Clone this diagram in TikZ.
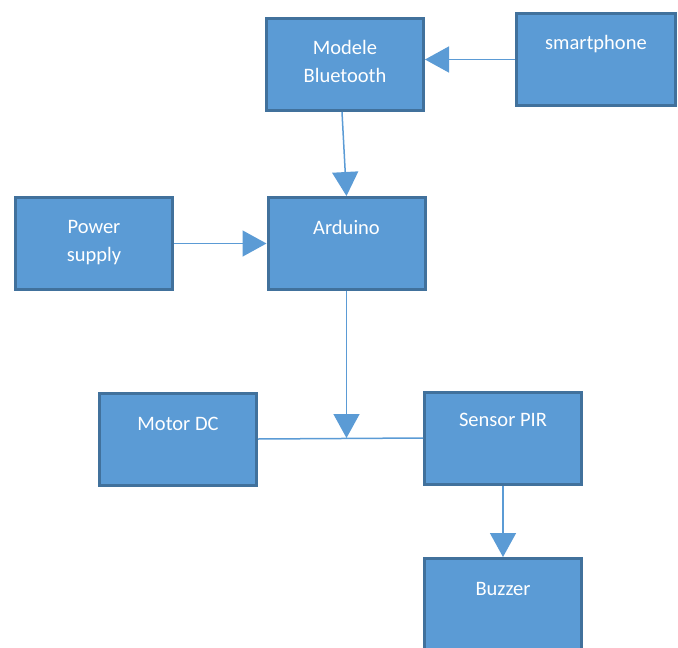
\documentclass[tikz,border=0pt]{standalone}
\usepackage{fontspec}
\setmainfont{Carlito}
\usetikzlibrary{arrows.meta}

\definecolor{boxfill}{HTML}{5B9BD5}
\definecolor{boxedge}{HTML}{41719C}
\definecolor{linkcol}{HTML}{5B9BD5}

\tikzset{
  box/.style={draw=boxedge, fill=boxfill, line width=3pt, minimum width=157pt, minimum height=92pt, inner sep=0pt},
  txt/.style={text=white, font=\fontsize{20.5}{28}\selectfont, align=center, anchor=base},
  link/.style={draw=linkcol, line width=1.5pt, -{Triangle[length=24pt,width=26pt]}}
}

\begin{document}
\begin{tikzpicture}[x=1pt,y=-1pt]
\useasboundingbox (0,0) rectangle (678,648);
\node [box] (blue) at (345,64.5) {};
\node [box, minimum width=159pt] (phone) at (596,59.5) {};
\node [box] (ard) at (346.5,243.5) {};
\node [box] (power) at (94,243.5) {};
\node [box] (motor) at (178,439) {};
\node [box] (pir) at (503,438) {};
\node [box] (buzz) at (503,604.5) {};
% two-line texts sit on their last line
\node [txt, yshift=-65.5pt] (bluetxt) at (blue.north) {Modele\\Bluetooth};
\node [txt, yshift=-37pt] (phonetxt) at (phone.north) {smartphone};
\node [txt, yshift=-38.5pt] (ardtxt) at (ard.north) {Arduino};
\node [txt, yshift=-65.5pt] (powertxt) at (power.north) {Power\\supply};
\node [txt, yshift=-38.5pt] (motortxt) at (motor.north) {Motor DC};
\node [txt, yshift=-36pt] (pirtxt) at (pir.north) {Sensor PIR};
\node [txt, yshift=-38.5pt] (buzztxt) at (buzz.north) {Buzzer};
\draw [link] (phone.west) -- (phone.west -| blue.east);
\draw [link] ([xshift=-3pt]blue.south) -- (ard.north);
\draw [link] (power.east) -- (ard.west);
\draw [draw=linkcol, line width=1.5pt] (motor.east) -- (pir.west);
\draw [link] (ard.south) -- (ard.south |- pir.west);
\draw [link] (pir.south) -- (buzz.north);
\end{tikzpicture}
\end{document}
